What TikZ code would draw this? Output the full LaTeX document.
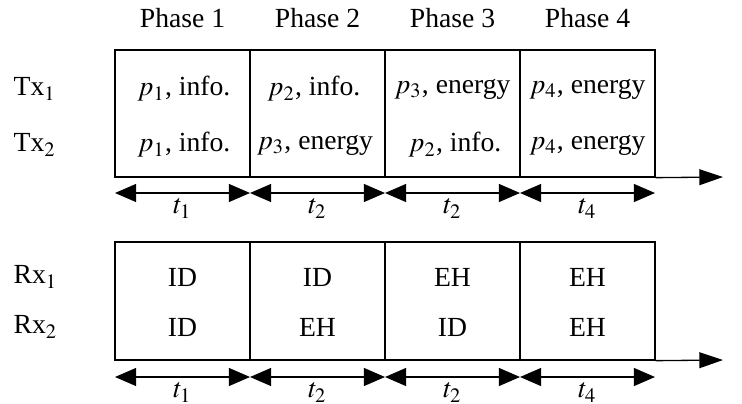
\documentclass[tikz,border=0pt]{standalone}
\usepackage{mathptmx}
\usepackage{fontspec}
\setmainfont{Liberation Serif}
\usetikzlibrary{arrows.meta}
\begin{document}
\begin{tikzpicture}[x=0.38pt,y=-0.38pt,
  font=\fontsize{10.5}{12.6}\selectfont,
  line width=0.5pt,
  topcell/.style={draw,rectangle,inner sep=0pt,minimum width=51.3pt,minimum height=48.26pt},
  botcell/.style={draw,rectangle,inner sep=0pt,minimum width=51.3pt,minimum height=44.84pt},
  txt/.style={inner sep=0pt},
  dur/.style={{Triangle[length=8pt,width=6.8pt]}-{Triangle[length=8pt,width=6.8pt]}},
  axis/.style={-{Triangle[length=9pt,width=6pt]}},
  durlab/.style={inner sep=0pt,below=2pt}]
\useasboundingbox (0,0) rectangle (742,403);
% phase labels
\node[txt] (ph1) at (182.5,18) {Phase 1};
\node[txt] (ph2) at (317.5,18) {Phase 2};
\node[txt] (ph3) at (452.5,18) {Phase 3};
\node[txt] (ph4) at (587.5,18) {Phase 4};
% top cells
\node[topcell] (T1) at (182.5,113.5) {};
\node[topcell] (T2) at (317.5,113.5) {};
\node[topcell] (T3) at (452.5,113.5) {};
\node[topcell] (T4) at (587.5,113.5) {};
% row labels
\node[txt,anchor=west] (tx1) at (13,89) {Tx$_1$};
\node[txt,anchor=west] (tx2) at (13,145) {Tx$_2$};
% top texts
\node[txt] (a11) at (184,89) {$p_1$, info.};
\node[txt] (a12) at (314,89) {$p_2$, info.};
\node[txt] (a13) at (452.5,89) {$p_3$, energy};
\node[txt] (a14) at (587.5,89) {$p_4$, energy};
\node[txt] (a21) at (184,145) {$p_1$, info.};
\node[txt] (a22) at (315,145) {$p_3$, energy};
\node[txt] (a23) at (455,145) {$p_2$, info.};
\node[txt] (a24) at (587.5,145) {$p_4$, energy};
% top axis
\coordinate (ax1) at (723,177);
\draw[axis] (T4.south east) -- (ax1);
% top durations
\coordinate (u0) at (115,193);
\coordinate (u1) at (250,193);
\coordinate (u2) at (385,193);
\coordinate (u3) at (520,193);
\coordinate (u4) at (655,193);
\draw[dur] (u0) -- node[durlab] (ut1) {$t_1$} (u1);
\draw[dur] (u1) -- node[durlab] (ut2) {$t_2$} (u2);
\draw[dur] (u2) -- node[durlab] (ut3) {$t_2$} (u3);
\draw[dur] (u3) -- node[durlab] (ut4) {$t_4$} (u4);
% bottom cells
\node[botcell] (B1) at (182.5,301) {};
\node[botcell] (B2) at (317.5,301) {};
\node[botcell] (B3) at (452.5,301) {};
\node[botcell] (B4) at (587.5,301) {};
\node[txt,anchor=west] (rx1) at (13,277) {Rx$_1$};
\node[txt,anchor=west] (rx2) at (13,327) {Rx$_2$};
\node[txt] (b11) at (182.5,277) {ID};
\node[txt] (b12) at (317.5,277) {ID};
\node[txt] (b13) at (452.5,277) {EH};
\node[txt] (b14) at (587.5,277) {EH};
\node[txt] (b21) at (182.5,327) {ID};
\node[txt] (b22) at (317.5,327) {EH};
\node[txt] (b23) at (452.5,327) {ID};
\node[txt] (b24) at (587.5,327) {EH};
\coordinate (ax2) at (723,360);
\draw[axis] (B4.south east) -- (ax2);
\coordinate (v0) at (115,377);
\coordinate (v1) at (250,377);
\coordinate (v2) at (385,377);
\coordinate (v3) at (520,377);
\coordinate (v4) at (655,377);
\draw[dur] (v0) -- node[durlab] (vt1) {$t_1$} (v1);
\draw[dur] (v1) -- node[durlab] (vt2) {$t_2$} (v2);
\draw[dur] (v2) -- node[durlab] (vt3) {$t_2$} (v3);
\draw[dur] (v3) -- node[durlab] (vt4) {$t_4$} (v4);
\end{tikzpicture}
\end{document}
